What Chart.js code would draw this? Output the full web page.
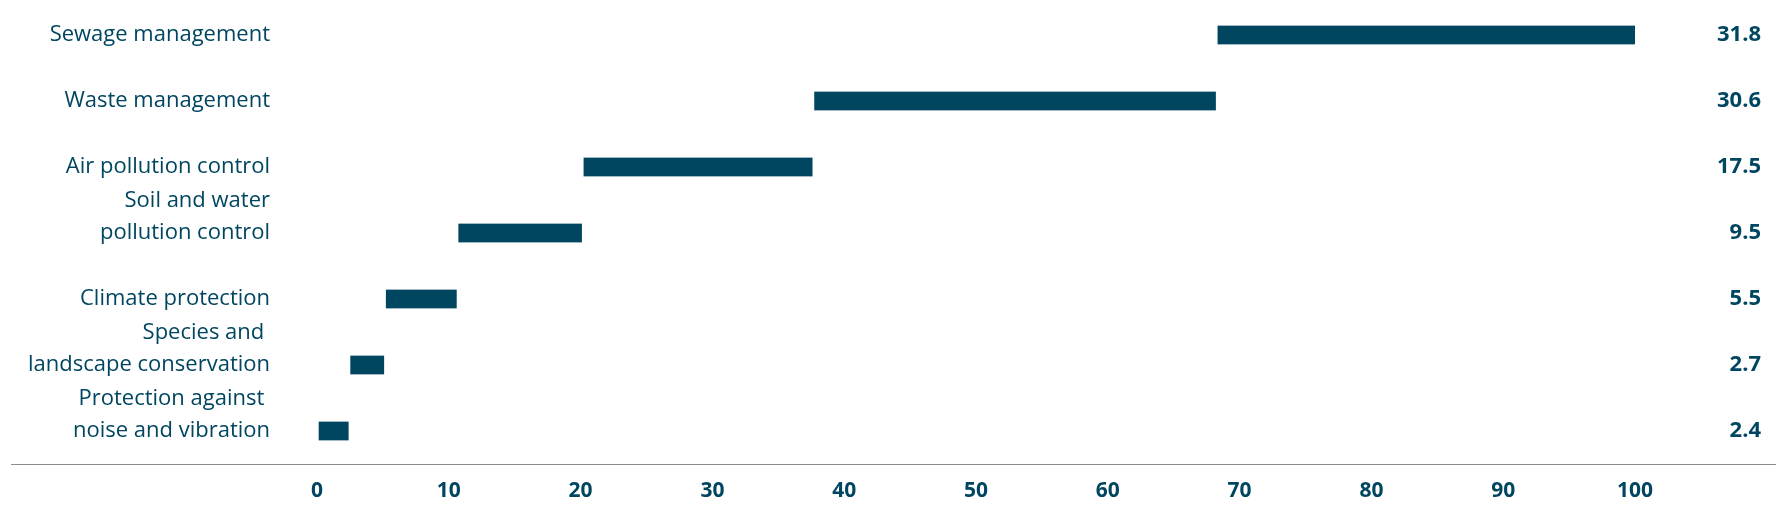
<!DOCTYPE html>
<html>
<head>
<meta charset="utf-8">
<script src="https://cdn.jsdelivr.net/npm/chart.js@4.4.1/dist/chart.umd.min.js"></script>
<style>
  html, body { margin: 0; padding: 0; background: #fff; }
  #wrap { width: 1790px; height: 520px; position: relative; }
</style>
</head>
<body>
<div id="wrap"><canvas id="chart"></canvas></div>
<script>
// categories, top to bottom (empty last line keeps the last text line on the bar)
const categories = [
    'Sewage management',
    'Waste management',
    'Air pollution control',
    ['Soil and water', 'pollution control', ''],
    'Climate protection',
    ['Species and ', 'landscape conservation', ''],
    ['Protection against ', 'noise and vibration', '']
];

// share of each area, percent
const shares = [31.8, 30.6, 17.5, 9.5, 5.5, 2.7, 2.4];

// x axis ticks
const xTicks = [0, 10, 20, 30, 40, 50, 60, 70, 80, 90, 100];

const navy = '#004660';
const fontFamily = "'Open Sans', 'Noto Sans', sans-serif";

// bars stack up from the bottom row: each starts where the one below ends
function buildRanges(values) {
    const ranges = new Array(values.length);
    let start = 0;
    for (let i = values.length - 1; i >= 0; i--) {
        ranges[i] = [start, start + values[i]];
        start += values[i];
    }
    return ranges;
}

const valueLabels = shares.map(v => v.toFixed(1));

// grey line under the rows, running the full width
const baseLine = {
    id: 'baseLine',
    afterDraw(chart) {
        const ctx = chart.ctx;
        const y = chart.chartArea.bottom + 0.5;
        ctx.save();
        ctx.strokeStyle = '#8c8c8c';
        ctx.lineWidth = 1.2;
        ctx.beginPath();
        ctx.moveTo(11, y);
        ctx.lineTo(1776, y);
        ctx.stroke();
        ctx.restore();
    }
};

// fixed side widths, and no extra room for tall labels
function fixWidth(w) {
    return (scale) => {
        scale.width = w;
        scale.paddingTop = 0;
        scale.paddingBottom = 0;
    };
}

function setupChart() {
    const ctx = document.getElementById('chart').getContext('2d');
    new Chart(ctx, {
        type: 'bar',
        data: {
            labels: categories,
            datasets: [{
                data: buildRanges(shares),
                backgroundColor: navy,
                borderColor: '#ffffff',
                borderWidth: { left: 2, right: 0, top: 0, bottom: 0 },
                borderSkipped: false,
                barThickness: 19,
                yAxisID: 'y'
            }]
        },
        options: {
            indexAxis: 'y',
            responsive: true,
            maintainAspectRatio: false,
            animation: false,
            layout: { padding: { top: 2, right: 29, bottom: 0, left: 0 } },
            plugins: {
                legend: { display: false },
                tooltip: { enabled: false }
            },
            scales: {
                x: {
                    type: 'linear',
                    min: 0,
                    max: 100,
                    afterBuildTicks: (scale) => {
                        scale.ticks = xTicks.map(v => ({ value: v }));
                    },
                    afterFit: (scale) => {
                        scale.height = 56;
                        scale.paddingLeft = 0;
                        scale.paddingRight = 0;
                    },
                    grid: { display: false, drawTicks: false },
                    border: { display: false },
                    ticks: {
                        color: navy,
                        padding: 14,
                        font: { family: fontFamily, size: 21, weight: 'bold' }
                    }
                },
                y: {
                    type: 'category',
                    position: 'left',
                    offset: true,
                    afterFit: fixWidth(317),
                    grid: { display: false, drawTicks: false },
                    border: { display: false },
                    ticks: {
                        autoSkip: false,
                        color: navy,
                        padding: 47,
                        font: { family: fontFamily, size: 22, lineHeight: 1.45 }
                    }
                },
                values: {
                    type: 'category',
                    position: 'right',
                    labels: valueLabels,
                    offset: true,
                    afterFit: fixWidth(126),
                    grid: { display: false, drawTicks: false },
                    border: { display: false },
                    ticks: {
                        autoSkip: false,
                        crossAlign: 'far',
                        color: navy,
                        font: { family: fontFamily, size: 22, weight: 'bold' }
                    }
                }
            }
        },
        plugins: [baseLine]
    });
}

window.onload = () => {
    setupChart();
};
</script>
</body>
</html>
